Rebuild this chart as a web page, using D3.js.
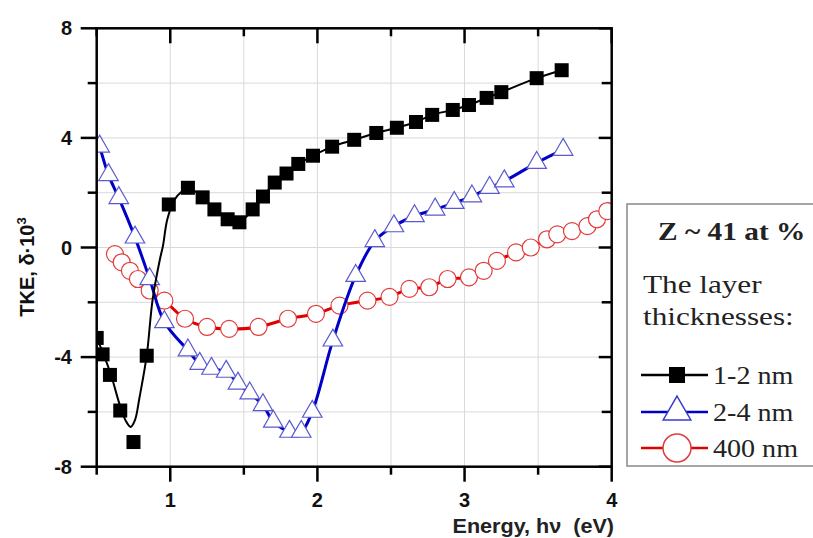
<!DOCTYPE html>
<html>
<head>
<meta charset="utf-8">
<script src="https://cdn.jsdelivr.net/npm/d3@7"></script>
<style>
  html, body { margin: 0; padding: 0; background: #fff; }
  svg { display: block; }
</style>
</head>
<body>
<svg id="chart" width="813" height="538"></svg>
<script>
// ---- Data ----
const energy12 = [0.50, 0.54, 0.59, 0.66, 0.75, 0.84, 0.99, 1.12, 1.22, 1.30, 1.39, 1.47, 1.56, 1.63, 1.71, 1.79, 1.87, 1.97, 2.10, 2.25, 2.40, 2.54, 2.67, 2.78, 2.92, 3.03, 3.15, 3.25, 3.49, 3.66];
const tke12    = [-3.3, -3.9, -4.65, -5.95, -7.1, -3.95, 1.57, 2.18, 1.83, 1.39, 1.03, 0.92, 1.39, 1.86, 2.37, 2.70, 3.05, 3.35, 3.68, 3.93, 4.18, 4.37, 4.58, 4.84, 5.02, 5.20, 5.46, 5.67, 6.18, 6.47];
// fitted curve drawn through the low-energy part of the 1-2 nm data
const fitEnergy12 = [0.50, 0.55, 0.60, 0.66, 0.70, 0.73, 0.76, 0.79, 0.84, 0.88, 0.93, 0.95, 0.98, 1.03, 1.08];
const fitTke12    = [-3.3, -3.95, -4.7, -5.8, -6.35, -6.55, -6.3, -5.5, -3.94, -1.9, -0.42, 0.05, 1.03, 1.75, 2.05];

const energy24 = [0.52, 0.58, 0.65, 0.76, 0.86, 0.96, 1.12, 1.20, 1.28, 1.38, 1.46, 1.54, 1.63, 1.70, 1.81, 1.89, 1.965, 2.105, 2.26, 2.39, 2.52, 2.66, 2.80, 2.93, 3.05, 3.17, 3.27, 3.49, 3.67];
const tke24    = [3.69, 2.65, 1.81, 0.37, -1.15, -2.72, -3.75, -4.24, -4.42, -4.53, -4.96, -5.32, -5.75, -6.35, -6.72, -6.72, -5.99, -3.39, -1.03, 0.24, 0.78, 1.15, 1.39, 1.63, 1.87, 2.18, 2.42, 3.09, 3.57];

const energy400 = [0.624, 0.67, 0.726, 0.78, 0.86, 0.96, 1.10, 1.25, 1.40, 1.60, 1.80, 1.99, 2.15, 2.34, 2.49, 2.625, 2.76, 2.885, 3.03, 3.13, 3.22, 3.35, 3.45, 3.56, 3.63, 3.73, 3.835, 3.90, 3.97];
const tke400    = [-0.24, -0.54, -0.85, -1.15, -1.57, -1.94, -2.6, -2.9, -2.97, -2.9, -2.6, -2.42, -2.12, -1.94, -1.8, -1.51, -1.45, -1.15, -1.09, -0.85, -0.49, -0.18, 0.0, 0.30, 0.48, 0.60, 0.78, 1.03, 1.33];

const xMajorTicks = [1, 2, 3, 4];
const xMinorTicks = [0.5, 1.5, 2.5, 3.5];
const yMajorTicks = [-8, -4, 0, 4, 8];
const yMinorTicks = [-6, -2, 2, 6];
const xGrid = [1, 1.5, 2, 2.5, 3, 3.5];
const yGrid = [-6, -4, -2, 0, 2, 4, 6];

const legendTitle = "Z ~ 41 at %";
const legendSub = ["The layer", "thicknesses:"];
const seriesNames = ["1-2 nm", "2-4 nm", "400 nm"];
const xTitle = "Energy, h\u03BD\u00A0\u00A0(eV)";

// ---- Layout ----
const svg = d3.select("#chart");
const L = 96.7, R = 611.7, T = 28.3, B = 466.7;
const x = d3.scaleLinear().domain([0.5, 4]).range([L, R]);
const y = d3.scaleLinear().domain([-8, 8]).range([B, T]);

const zip = (xs, ys) => xs.map((v, i) => [v, ys[i]]);
const d12 = zip(energy12, tke12);
const d24 = zip(energy24, tke24);
const d400 = zip(energy400, tke400);
const fit12 = zip(fitEnergy12, fitTke12).concat(d12.filter(d => d[0] >= 1.12));

svg.append("defs").append("clipPath").attr("id", "clip")
  .append("rect").attr("x", L).attr("y", T).attr("width", R - L).attr("height", B - T);

// grid
const grid = svg.append("g").attr("stroke", "#d9d9d9").attr("stroke-width", 1);
grid.selectAll("line.v").data(xGrid).join("line")
  .attr("x1", d => x(d)).attr("x2", d => x(d)).attr("y1", T).attr("y2", B);
grid.selectAll("line.h").data(yGrid).join("line")
  .attr("x1", L).attr("x2", R).attr("y1", d => y(d)).attr("y2", d => y(d));

const plot = svg.append("g").attr("clip-path", "url(#clip)");
const lineGen = d3.line().x(d => x(d[0])).y(d => y(d[1])).curve(d3.curveCatmullRom.alpha(0.5));

// 400 nm (red)
plot.append("path").datum(d400).attr("d", lineGen)
  .attr("fill", "none").attr("stroke", "#e00000").attr("stroke-width", 3);
plot.selectAll("circle.c400").data(d400).join("circle")
  .attr("cx", d => x(d[0])).attr("cy", d => y(d[1])).attr("r", 8.5)
  .attr("fill", "#fff").attr("stroke", "#e23b3b").attr("stroke-width", 1.2);

// 2-4 nm (blue)
plot.append("path").datum(d24).attr("d", lineGen)
  .attr("fill", "none").attr("stroke", "#0000c8").attr("stroke-width", 3);
const tri = d3.symbol().type(d3.symbolTriangle).size(165);
plot.selectAll("path.t24").data(d24).join("path")
  .attr("d", tri)
  .attr("transform", d => `translate(${x(d[0])},${y(d[1])})`)
  .attr("fill", "#fff").attr("stroke", "#5a5ad0").attr("stroke-width", 1.2);

// 1-2 nm (black)
plot.append("path").datum(fit12).attr("d", lineGen)
  .attr("fill", "none").attr("stroke", "#000").attr("stroke-width", 2);
const sq = 14;
plot.selectAll("rect.s12").data(d12).join("rect")
  .attr("x", d => x(d[0]) - sq / 2).attr("y", d => y(d[1]) - sq / 2)
  .attr("width", sq).attr("height", sq).attr("fill", "#000");

// axes frame
const axisG = svg.append("g").attr("stroke", "#000").attr("stroke-width", 2.5).attr("fill", "none");
axisG.append("rect").attr("x", L).attr("y", T).attr("width", R - L).attr("height", B - T);

// ticks
const tk = svg.append("g").attr("stroke", "#000").attr("stroke-width", 2.5);
tk.selectAll("line.bM").data(xMajorTicks).join("line")
  .attr("x1", d => x(d)).attr("x2", d => x(d)).attr("y1", B).attr("y2", B + 15);
tk.selectAll("line.bm").data(xMinorTicks).join("line")
  .attr("x1", d => x(d)).attr("x2", d => x(d)).attr("y1", B).attr("y2", B + 8);
tk.selectAll("line.tM").data(xMajorTicks).join("line")
  .attr("x1", d => x(d)).attr("x2", d => x(d)).attr("y1", T).attr("y2", T + 15);
tk.selectAll("line.tm").data(xMinorTicks).join("line")
  .attr("x1", d => x(d)).attr("x2", d => x(d)).attr("y1", T).attr("y2", T + 8);
tk.selectAll("line.lM").data(yMajorTicks).join("line")
  .attr("x1", L - 16).attr("x2", L).attr("y1", d => y(d)).attr("y2", d => y(d));
tk.selectAll("line.lm").data(yMinorTicks).join("line")
  .attr("x1", L - 9).attr("x2", L).attr("y1", d => y(d)).attr("y2", d => y(d));
tk.selectAll("line.rM").data(yMajorTicks).join("line")
  .attr("x1", R - 13).attr("x2", R).attr("y1", d => y(d)).attr("y2", d => y(d));
tk.selectAll("line.rm").data(yMinorTicks).join("line")
  .attr("x1", R - 10).attr("x2", R).attr("y1", d => y(d)).attr("y2", d => y(d));

// tick labels
const font = "Arial, 'Liberation Sans', sans-serif";
svg.append("g").selectAll("text").data(xMajorTicks).join("text")
  .attr("x", d => x(d)).attr("y", 507).attr("text-anchor", "middle")
  .attr("font-family", font).attr("font-weight", "bold").attr("font-size", 20)
  .attr("fill", "#111").text(d => d);
svg.append("g").selectAll("text").data(yMajorTicks).join("text")
  .attr("x", 72).attr("y", d => y(d) + 7).attr("text-anchor", "end")
  .attr("font-family", font).attr("font-weight", "bold").attr("font-size", 20)
  .attr("fill", "#111").text(d => d);

// axis titles
svg.append("text").attr("transform", "translate(614,533) scale(1.08,1)").attr("text-anchor", "end")
  .attr("font-family", font).attr("font-weight", "bold").attr("font-size", 20)
  .attr("fill", "#222").text(xTitle);
const yt = svg.append("text").attr("transform", "translate(34,267) rotate(-90)")
  .attr("text-anchor", "middle").attr("font-family", font).attr("font-weight", "bold")
  .attr("font-size", 20).attr("fill", "#111");
yt.append("tspan").text("TKE, \u03B4\u00B710");
yt.append("tspan").attr("font-size", 13).attr("dy", -8).text("3");

// legend
const lg = svg.append("g");
lg.append("rect").attr("x", 627).attr("y", 204).attr("width", 200).attr("height", 262)
  .attr("fill", "#fff").attr("stroke", "#888").attr("stroke-width", 1.5);
const serif = "'Times New Roman', 'Liberation Serif', serif";
lg.append("text").attr("transform", "translate(658,240) scale(1.13,1)").attr("font-family", serif)
  .attr("font-weight", "bold").attr("font-size", 26).attr("fill", "#222").text(legendTitle);
lg.selectAll("text.sub").data(legendSub).join("text")
  .attr("transform", (d, i) => `translate(643,${293 + i * 32}) scale(1.2,1)`).attr("font-family", serif)
  .attr("font-size", 26).attr("fill", "#222").text(d => d);

const legY = [375, 412, 448];
const legColors = ["#000", "#0000c8", "#e00000"];
seriesNames.forEach((name, i) => {
  const cy = legY[i];
  lg.append("line").attr("x1", 641).attr("x2", 708).attr("y1", cy).attr("y2", cy)
    .attr("stroke", legColors[i]).attr("stroke-width", 2.5);
  if (i === 0) {
    lg.append("rect").attr("x", 677 - 8).attr("y", cy - 8).attr("width", 16).attr("height", 16).attr("fill", "#000");
  } else if (i === 1) {
    lg.append("path").attr("d", d3.symbol().type(d3.symbolTriangle).size(330))
      .attr("transform", `translate(677,${cy})`).attr("fill", "#fff")
      .attr("stroke", "#3a3ad0").attr("stroke-width", 1.5);
  } else {
    lg.append("circle").attr("cx", 677).attr("cy", cy).attr("r", 14)
      .attr("fill", "#fff").attr("stroke", "#e23b3b").attr("stroke-width", 1.5);
  }
  lg.append("text").attr("transform", `translate(713,${cy + 9}) scale(1.08,1)`).attr("font-family", serif)
    .attr("font-size", 26).attr("fill", "#222").text(name);
});
</script>
</body>
</html>
